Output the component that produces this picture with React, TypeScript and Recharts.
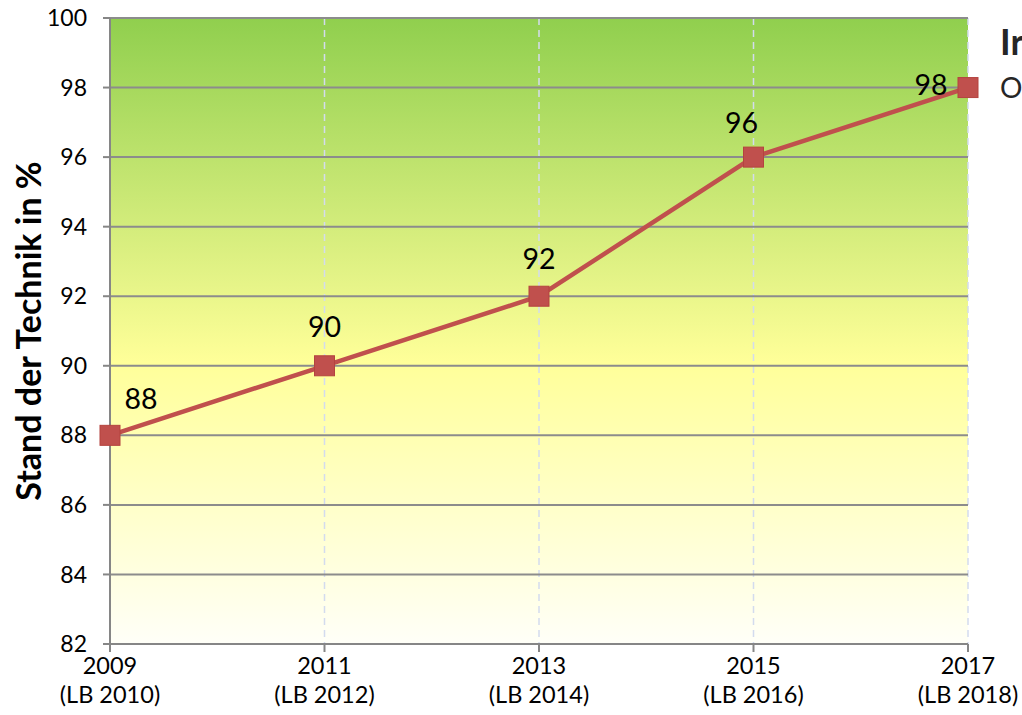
import { LineChart, Line, XAxis, YAxis, CartesianGrid, LabelList } from "recharts";

const years = ["2009", "2011", "2013", "2015", "2017"];
const reports = ["(LB 2010)", "(LB 2012)", "(LB 2014)", "(LB 2016)", "(LB 2018)"];
const values = [88, 90, 92, 96, 98];
const yTicks = [82, 84, 86, 88, 90, 92, 94, 96, 98, 100];

const data = years.map((year, i) => ({ year, report: reports[i], value: values[i] }));

const FONT = "Lato, 'Open Sans', sans-serif";
const RED = "#c0504d";

// label offsets per point (Excel placed them by hand)
const labelShift = [
  { dx: 31, dy: -37 },
  { dx: 0, dy: -40 },
  { dx: 0, dy: -38 },
  { dx: -12, dy: -35 },
  { dx: -37, dy: -4 },
];

function XTick({ x, y, payload, index }: any) {
  return (
    <text x={x} y={y} textAnchor="middle" fontSize={23.5} fill="#000" fontFamily={FONT}>
      <tspan x={x} dy={20}>{payload.value}</tspan>
      <tspan x={x} dy={29}>{reports[index]}</tspan>
    </text>
  );
}

function SquareDot({ cx, cy }: any) {
  return <rect x={cx - 10} y={cy - 10} width={20} height={20} fill={RED} stroke="#b4433f" strokeWidth={1} />;
}

function ValueLabel({ x, y, value, index }: any) {
  const s = labelShift[index] || { dx: 0, dy: -38 };
  return (
    <text x={x + s.dx} y={y + s.dy} textAnchor="middle" dominantBaseline="central" fontSize={28.5} fill="#000" fontFamily={FONT}>
      {value}
    </text>
  );
}

function AxisTitle({ viewBox }: any) {
  const cy = viewBox.y + viewBox.height / 2;
  return (
    <text x={27} y={cy} transform={`rotate(-90, 27, ${cy})`} textAnchor="middle" dominantBaseline="central"
      fontSize={34} fontWeight="bold" fill="#000" fontFamily={FONT}>
      Stand der Technik in %
    </text>
  );
}

export default function App() {
  return (
    <div style={{ position: "absolute", left: 0, top: 0, width: 1022, height: 715, overflow: "hidden", background: "#fff" }}>
      <LineChart width={1022} height={715} data={data} margin={{ top: 18, right: 54, bottom: 11, left: 0 }}>
        <defs>
          <linearGradient id="bg" x1="0" y1="0" x2="0" y2="1">
            <stop offset="0" stopColor="#90cf4e" />
            <stop offset="0.55" stopColor="#ffff99" />
            <stop offset="1" stopColor="#fffff8" />
          </linearGradient>
        </defs>
        <CartesianGrid fill="url(#bg)" horizontal={false} stroke="#d3dbee" strokeDasharray="7 5" strokeWidth={1.5} />
        <CartesianGrid horizontal vertical={false} stroke="#8c8c8c" strokeWidth={2} />
        <XAxis
          dataKey="year"
          height={60}
          tickSize={8}
          tickMargin={2}
          tick={<XTick />}
          interval={0}
          axisLine={{ stroke: "#868686", strokeWidth: 2 }}
          tickLine={{ stroke: "#868686", strokeWidth: 2 }}
        />
        <YAxis
          width={110}
          domain={[82, 100]}
          ticks={yTicks}
          interval={0}
          tickSize={7}
          tickMargin={16}
          tick={{ fontSize: 23, fill: "#000", fontFamily: FONT }}
          axisLine={{ stroke: "#868686", strokeWidth: 2 }}
          tickLine={{ stroke: "#868686", strokeWidth: 2 }}
          label={<AxisTitle />}
        />
        <Line
          type="linear"
          dataKey="value"
          stroke={RED}
          strokeWidth={4.5}
          dot={<SquareDot />}
          activeDot={false}
          isAnimationActive={false}
        >
          <LabelList dataKey="value" content={<ValueLabel />} />
        </Line>
      </LineChart>
      <svg width={1022} height={715} style={{ position: "absolute", left: 0, top: 0, pointerEvents: "none" }}>
        <text x={1000} y={55} fontFamily={FONT} fontSize={36} fontWeight="bold" fill="#262626">Ir</text>
        <text x={1000} y={98} fontFamily={FONT} fontSize={28} fill="#262626">O</text>
      </svg>
    </div>
  );
}
